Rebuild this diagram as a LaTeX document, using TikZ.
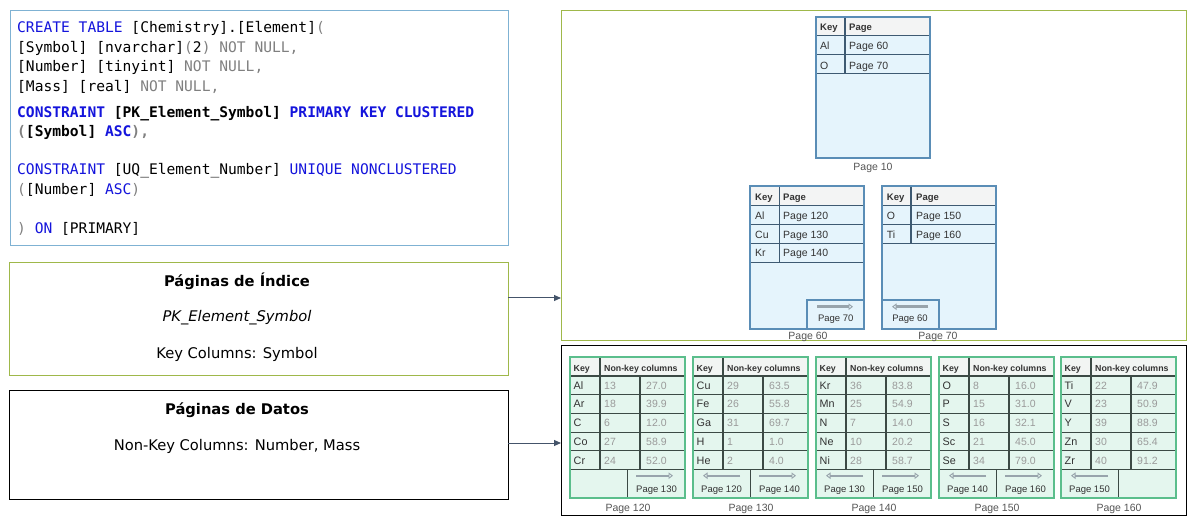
\documentclass[tikz,border=0pt]{standalone}
\usepackage{fontspec}
\setmainfont{DejaVu Sans}
\setmonofont{DejaVu Sans Mono}
\newfontfamily\tabfont{Liberation Sans}
\usetikzlibrary{arrows.meta}
\definecolor{kwblue}{HTML}{1414DC}
\definecolor{kwgray}{HTML}{808080}
\definecolor{codeframe}{HTML}{7FB2D3}
\definecolor{olivef}{HTML}{9FB84A}
\definecolor{arrowc}{HTML}{44546A}
\definecolor{idxline}{HTML}{5A8DB6}
\definecolor{idxinner}{HTML}{3E5A72}
\definecolor{idxfill}{HTML}{E5F4FC}
\definecolor{idxhead}{HTML}{F3F4F4}
\definecolor{dline}{HTML}{5BBE8C}
\definecolor{dinner}{HTML}{3C4A45}
\definecolor{dfill}{HTML}{E4F6EE}
\definecolor{dhead}{HTML}{F2F5F3}
\definecolor{valgray}{HTML}{9A9A9A}
\definecolor{tabtext}{HTML}{333333}
\definecolor{lbltext}{HTML}{555555}
\definecolor{navarrow}{HTML}{98A4AC}
\newcommand\kwb[1]{\textcolor{kwblue}{#1}}
\newcommand\kwg[1]{\textcolor{kwgray}{#1}}
\tikzset{
  frame/.style={anchor=north west, inner sep=0pt, outer sep=0pt, line width=1pt},
  codeln/.style={anchor=base west, inner sep=0pt, font=\fontsize{14.6}{17}\selectfont\ttfamily},
  lbl/.style={anchor=base, inner sep=0pt, font=\fontsize{14.7}{17}\selectfont, text=black},
  conn/.style={draw=arrowc, line width=1pt, -{Triangle[length=7pt,width=6pt]}},
  ipage/.style={anchor=north west, inner sep=0pt, outer sep=0pt, draw=idxline, fill=idxfill, line width=1.8pt},
  iborder/.style={draw=idxline, line width=1.8pt},
  iinner/.style={draw=idxinner, line width=1.2pt},
  ihd/.style={anchor=base west, inner sep=0pt, font=\tabfont\bfseries\fontsize{9.5}{11}\selectfont, text=tabtext},
  ival/.style={anchor=base west, inner sep=0pt, font=\tabfont\fontsize{10.5}{12}\selectfont, text=tabtext},
  nav/.style={anchor=base, inner sep=0pt, font=\tabfont\fontsize{9.5}{11}\selectfont, text=tabtext},
  pglbl/.style={anchor=base, inner sep=0pt, font=\tabfont\fontsize{10.5}{12}\selectfont, text=lbltext},
  navr/.style={draw=navarrow, line width=2.4pt, -{Triangle[open,length=4.5pt,width=6.5pt,line width=0.9pt]}},
  dpg/.style={anchor=north west, inner sep=0pt, outer sep=0pt, draw=dline, fill=dfill, line width=1.8pt, minimum width=115pt, minimum height=141.6pt},
  dborder/.style={draw=dline, line width=1.8pt},
  dinn/.style={draw=dinner, line width=1.1pt},
  dhd/.style={anchor=base west, inner sep=0pt, font=\tabfont\bfseries\fontsize{8.8}{10}\selectfont, text=tabtext},
  dsym/.style={anchor=base west, inner sep=0pt, font=\tabfont\fontsize{10.8}{12}\selectfont, text=tabtext},
  dval/.style={anchor=base west, inner sep=0pt, font=\tabfont\fontsize{10.5}{12}\selectfont, text=valgray},
}
\newcommand\dpage[5]{%
  \node[dpg] (dp#2) at (#1,356.7) {};
  \fill[dhead] (#1+1,357.7) rectangle (#1+114,376);
  \foreach \yy in {376,394.7,413.4,432.1,450.8,469.5} {\draw[dinn] (#1,\yy) -- (#1+115,\yy);}
  \draw[dinn] (#1+30,356.7) -- (#1+30,469.5);
  \draw[dinn] (#1+70,376) -- (#1+70,469.5);
  \draw[dinn] (#1+57.5,469.5) -- (#1+57.5,498.3);
  \draw[dborder] (#1,356.7) rectangle (#1+115,498.3);
  \node[dhd] (dp#2k) at (#1+3.5,371.5) {Key};
  \node[dhd] (dp#2n) at (#1+34,371.5) {Non-key columns};
  \foreach \s/\n/\m [count=\k from 0] in {#3} {
    \node[dsym] (dp#2s\k) at (#1+3.5,389.2+18.7*\k) {\s};
    \node[dval] (dp#2a\k) at (#1+34,389.2+18.7*\k) {\n};
    \node[dval] (dp#2b\k) at (#1+76,389.2+18.7*\k) {\m};
  }
  \if\relax\detokenize{#4}\relax\else
    \draw[navr] (#1+47,475.7) -- (#1+10,475.7);
    \node[nav] (dp#2l) at (#1+28.5,492.7) {Page #4};
  \fi
  \if\relax\detokenize{#5}\relax\else
    \draw[navr] (#1+66,475.7) -- (#1+103,475.7);
    \node[nav] (dp#2r) at (#1+86.5,492.7) {Page #5};
  \fi
  \node[pglbl] (dp#2lbl) at (#1+58,511) {Page #2};
}
\begin{document}
\begin{tikzpicture}[x=1pt,y=-1pt]
\useasboundingbox (0,0) rectangle (1197,529);
\fill[white] (0,0) rectangle (1197,529);

% frames
\node[frame, draw=codeframe, minimum width=498pt, minimum height=235pt] (code) at (10,11) {};
\node[frame, draw=olivef, minimum width=499pt, minimum height=112pt] (idx) at (9,263) {};
\node[frame, draw=black, minimum width=499pt, minimum height=109pt] (dat) at (9,390) {};
\node[frame, draw=olivef, minimum width=625pt, minimum height=330pt] (rtop) at (561,11) {};
\node[frame, draw=black, minimum width=625pt, minimum height=169pt] (rbot) at (561,346) {};

% code
\node[codeln] (c1) at (17,32.3) {\kwb{CREATE TABLE} [Chemistry].[Element]\kwg{(}};
\node[codeln] (c2) at (17,52.3) {[Symbol] [nvarchar]\kwg{(}2\kwg{) NOT NULL,}};
\node[codeln] (c3) at (17,71.3) {[Number] [tinyint] \kwg{NOT NULL,}};
\node[codeln] (c4) at (17,91.3) {[Mass] [real] \kwg{NOT NULL,}};
\node[codeln, font=\fontsize{14.6}{17}\selectfont\ttfamily\bfseries] (c5) at (17,117.3) {\kwb{CONSTRAINT} [PK\_Element\_Symbol] \kwb{PRIMARY KEY CLUSTERED}};
\node[codeln, font=\fontsize{14.6}{17}\selectfont\ttfamily\bfseries] (c6) at (17,136.7) {\kwg{(}[Symbol] \kwb{ASC}\kwg{),}};
\node[codeln] (c7) at (17,174.7) {\kwb{CONSTRAINT} [UQ\_Element\_Number] \kwb{UNIQUE NONCLUSTERED}};
\node[codeln] (c8) at (17,195) {\kwg{(}[Number] \kwb{ASC}\kwg{)}};
\node[codeln] (c9) at (17,233.3) {\kwg{)} \kwb{ON} [PRIMARY]};

% labels
\node[lbl, font=\fontsize{14.7}{17}\selectfont\bfseries] (t1) at (237,287) {Páginas de Índice};
\node[lbl, font=\fontsize{14.7}{17}\selectfont\itshape] (t2) at (237,322) {PK\_Element\_Symbol};
\node[lbl] (t3) at (237,359) {Key Columns: Symbol};
\node[lbl, font=\fontsize{14.7}{17}\selectfont\bfseries] (t4) at (237,414) {Páginas de Datos};
\node[lbl] (t5) at (237,450) {Non-Key Columns: Number, Mass};

% connectors
\draw[conn] (idx.east |- 0,298) -- (rtop.west |- 0,298);
\draw[conn] (dat.east |- 0,443) -- (rbot.west |- 0,443);

% index page 10
\node[ipage, minimum width=114pt, minimum height=141.3pt] (p10) at (816,16.7) {};
\fill[idxhead] (817,17.6) rectangle (929,35.5);
\draw[iinner] (816,35.5) -- (930,35.5);
\draw[iinner] (816,54.5) -- (930,54.5);
\draw[iinner] (816,73.5) -- (930,73.5);
\draw[iinner] (845,16.7) -- (845,73.5);
\draw[iborder] (816,16.7) rectangle (930,158);
\node[ihd] (p10k) at (820,31) {Key};
\node[ihd] (p10p) at (849,31) {Page};
\node[ival] (p10a) at (820,50) {Al};
\node[ival] (p10b) at (849,50) {Page 60};
\node[ival] (p10c) at (820,69.5) {O};
\node[ival] (p10d) at (849,69.5) {Page 70};
\node[pglbl] (p10lbl) at (873,171) {Page 10};

% index page 60
\node[ipage, minimum width=114pt, minimum height=143.3pt] (p60) at (750,185.7) {};
\fill[idxhead] (751,186.6) rectangle (863,205.7);
\foreach \yy in {205.7,224.3,243.3,262.3} {\draw[iinner] (750,\yy) -- (864,\yy);}
\draw[iinner] (779.3,185.7) -- (779.3,262.3);
\draw[iborder] (807,329) |- (864,300);
\draw[iborder] (750,185.7) rectangle (864,329);
\node[ihd] (p60k) at (755,200.4) {Key};
\node[ihd] (p60p) at (783,200.4) {Page};
\node[ival] (p60a) at (755,219.4) {Al};
\node[ival] (p60b) at (783,219.4) {Page 120};
\node[ival] (p60c) at (755,238.2) {Cu};
\node[ival] (p60d) at (783,238.2) {Page 130};
\node[ival] (p60e) at (755,257) {Kr};
\node[ival] (p60f) at (783,257) {Page 140};
\draw[navr] (817,306.7) -- (853,306.7);
\node[nav] (p60n) at (835.7,322) {Page 70};
\node[pglbl] (p60lbl) at (808,340) {Page 60};

% index page 70
\node[ipage, minimum width=114pt, minimum height=143.3pt] (p70) at (882,185.7) {};
\fill[idxhead] (883,186.6) rectangle (995,205.7);
\foreach \yy in {205.7,224.3,243.3} {\draw[iinner] (882,\yy) -- (996,\yy);}
\draw[iinner] (911,185.7) -- (911,243.3);
\draw[iborder] (882,300) -| (939,329);
\draw[iborder] (882,185.7) rectangle (996,329);
\node[ihd] (p70k) at (886.7,200.4) {Key};
\node[ihd] (p70p) at (916,200.4) {Page};
\node[ival] (p70a) at (886.7,219.4) {O};
\node[ival] (p70b) at (916,219.4) {Page 150};
\node[ival] (p70c) at (886.7,238.2) {Ti};
\node[ival] (p70d) at (916,238.2) {Page 160};
\draw[navr] (928,306.7) -- (892,306.7);
\node[nav] (p70n) at (910,322) {Page 60};
\node[pglbl] (p70lbl) at (938,340) {Page 70};

% data pages
\dpage{570}{120}{Al/13/27.0, Ar/18/39.9, C/6/12.0, Co/27/58.9, Cr/24/52.0}{}{130}
\dpage{693}{130}{Cu/29/63.5, Fe/26/55.8, Ga/31/69.7, H/1/1.0, He/2/4.0}{120}{140}
\dpage{816}{140}{Kr/36/83.8, Mn/25/54.9, N/7/14.0, Ne/10/20.2, Ni/28/58.7}{130}{150}
\dpage{939}{150}{O/8/16.0, P/15/31.0, S/16/32.1, Sc/21/45.0, Se/34/79.0}{140}{160}
\dpage{1061}{160}{Ti/22/47.9, V/23/50.9, Y/39/88.9, Zn/30/65.4, Zr/40/91.2}{150}{}
\end{tikzpicture}
\end{document}
